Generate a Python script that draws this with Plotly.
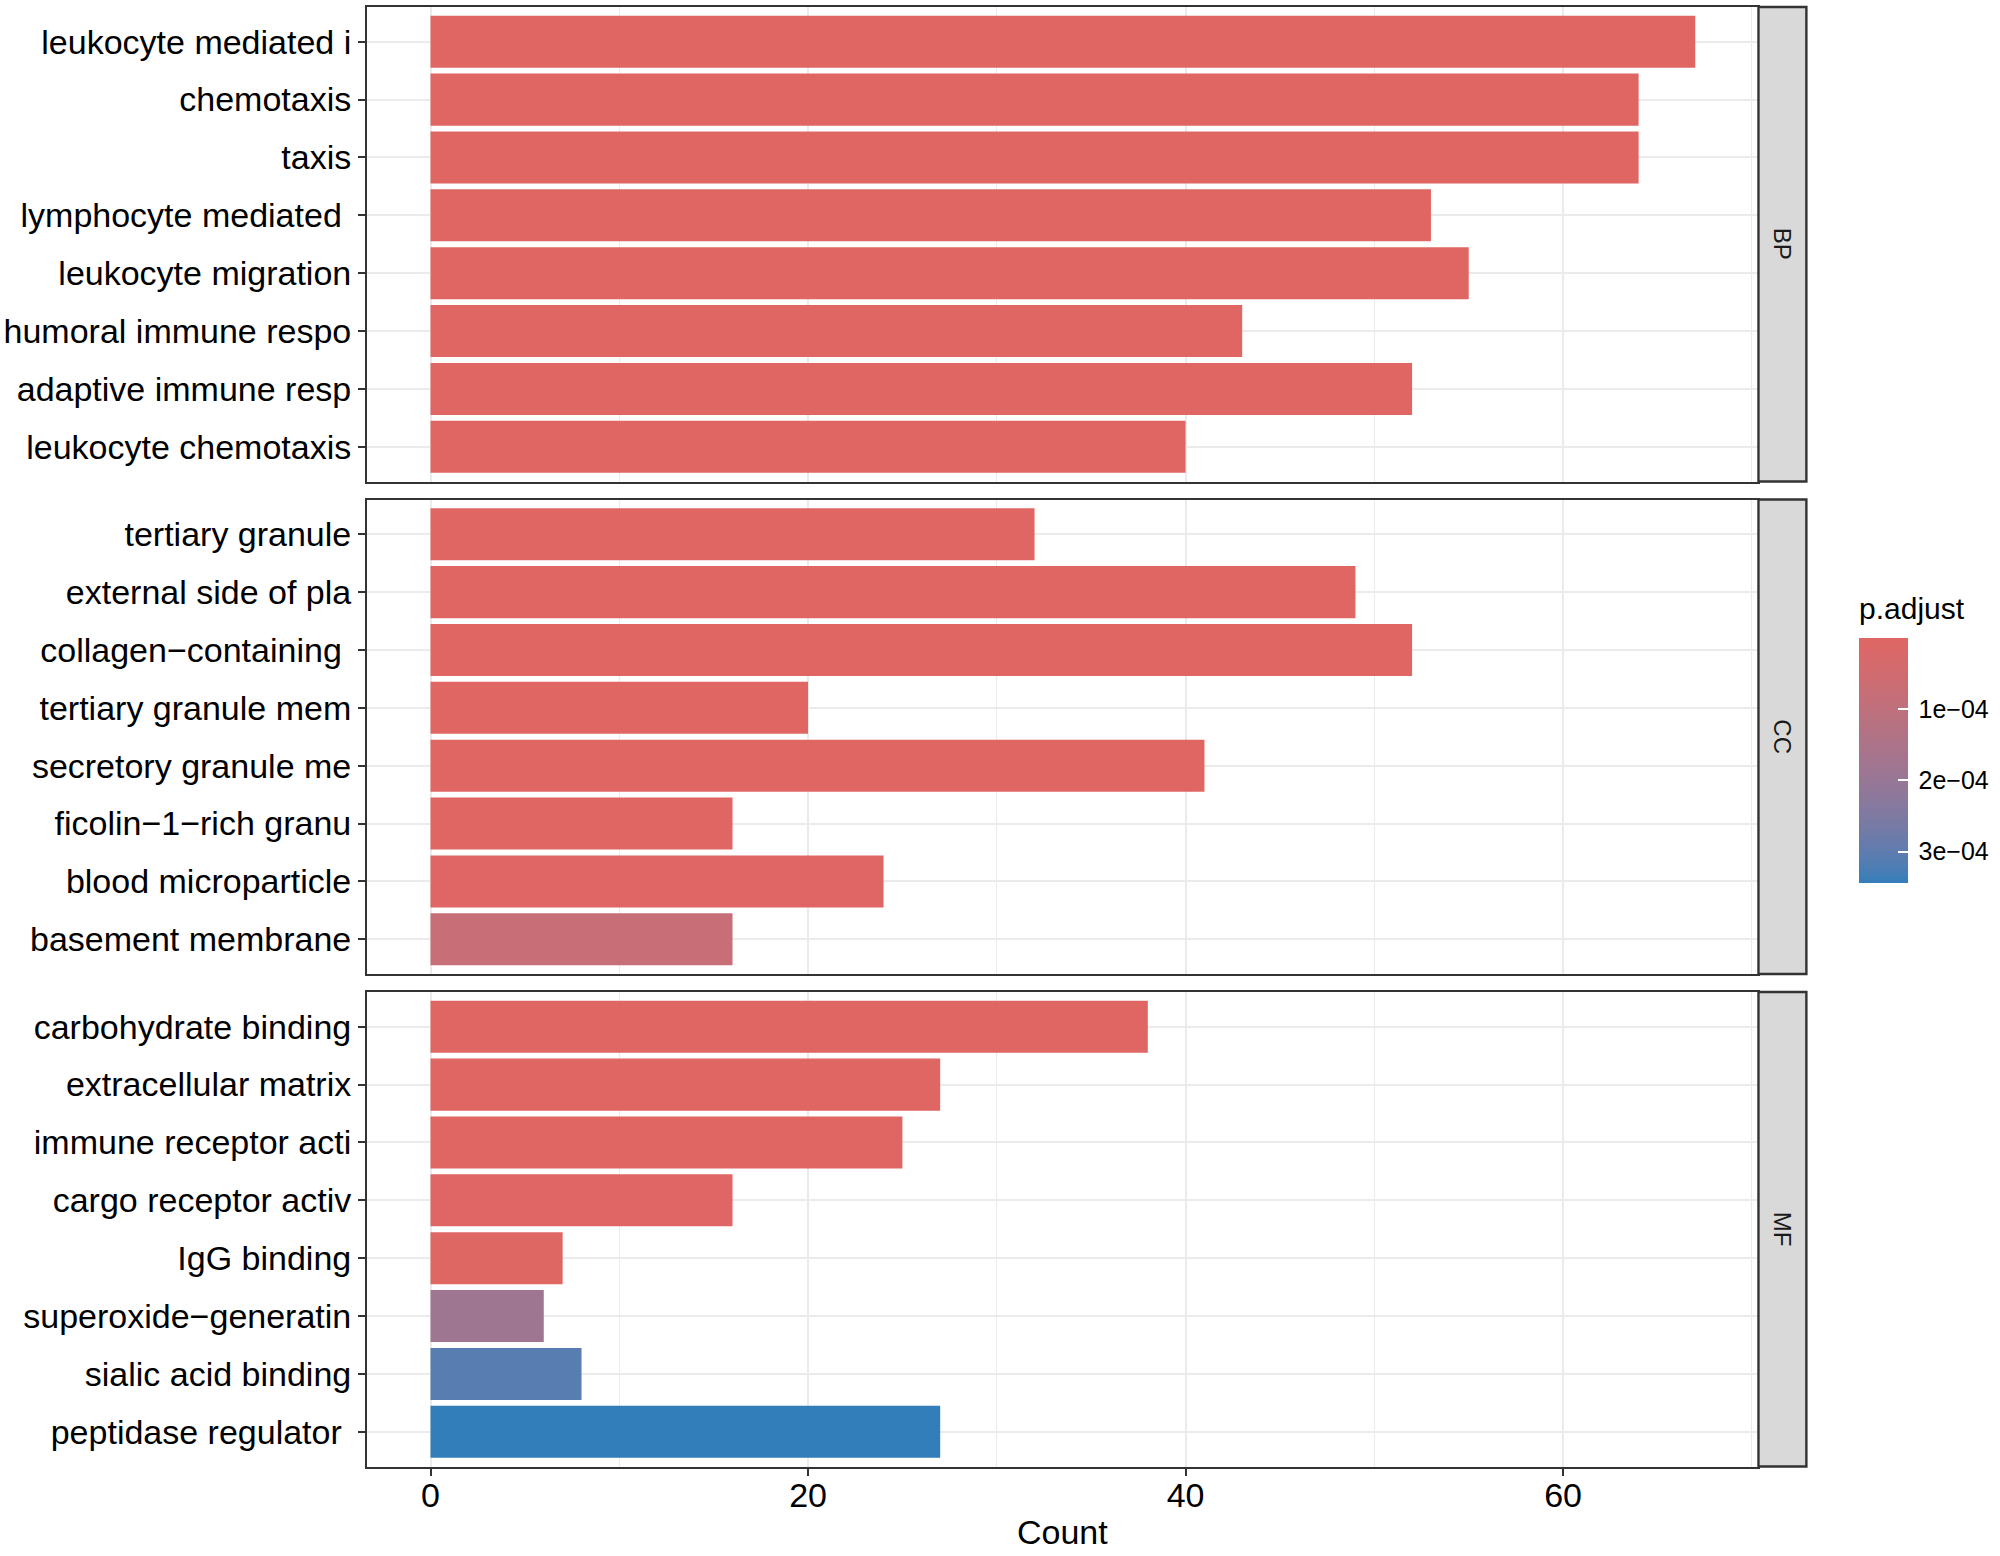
import plotly.graph_objects as go

# ---------------- data ----------------
bp_terms = ["leukocyte mediated i", "chemotaxis", "taxis", "lymphocyte mediated\u00a0",
            "leukocyte migration", "humoral immune respo", "adaptive immune resp",
            "leukocyte chemotaxis"]
bp_counts = [67, 64, 64, 53, 55, 43, 52, 40]
bp_padj = [1.1e-12, 2.0e-12, 2.0e-12, 3.5e-12, 4.1e-12, 6.0e-12, 7.2e-12, 8.5e-12]

cc_terms = ["tertiary granule", "external side of pla", "collagen\u2212containing\u00a0",
            "tertiary granule mem", "secretory granule me", "ficolin\u22121\u2212rich granu",
            "blood microparticle", "basement membrane"]
cc_counts = [32, 49, 52, 20, 41, 16, 24, 16]
cc_padj = [2.0e-11, 3.0e-10, 5.0e-9, 4.0e-8, 9.0e-8, 6.0e-7, 2.5e-6, 0.76e-4]

mf_terms = ["carbohydrate binding", "extracellular matrix", "immune receptor acti",
            "cargo receptor activ", "IgG binding", "superoxide\u2212generatin",
            "sialic acid binding", "peptidase regulator\u00a0"]
mf_counts = [38, 27, 25, 16, 7, 6, 8, 27]
mf_padj = [1.0e-7, 4.0e-7, 1.0e-6, 3.0e-6, 6.0e-6, 1.84e-4, 3.09e-4, 3.44e-4]

facets = ["BP", "CC", "MF"]
cbar_tickvals = [1e-4, 2e-4, 3e-4]
cbar_ticktext = ["1e\u221204", "2e\u221204", "3e\u221204"]
x_ticks = [0, 20, 40, 60]

LOW = "#e06663"
HIGH = "#327eba"


# ------------- Lab colour interpolation (like ggplot) -------------
def _lin(c):
    c = c / 255.0
    return c / 12.92 if c <= 0.04045 else ((c + 0.055) / 1.055) ** 2.4


def _unlin(c):
    c = 12.92 * c if c <= 0.0031308 else 1.055 * c ** (1 / 2.4) - 0.055
    return max(0, min(255, round(c * 255)))


def hex2lab(h):
    r, g, b = (_lin(int(h[i:i + 2], 16)) for i in (1, 3, 5))
    X = 0.4124 * r + 0.3576 * g + 0.1805 * b
    Y = 0.2126 * r + 0.7152 * g + 0.0722 * b
    Z = 0.0193 * r + 0.1192 * g + 0.9505 * b
    Xn, Yn, Zn = 0.95047, 1.0, 1.08883

    def f(t):
        return t ** (1 / 3) if t > 0.008856 else 7.787 * t + 16 / 116
    fx, fy, fz = f(X / Xn), f(Y / Yn), f(Z / Zn)
    return 116 * fy - 16, 500 * (fx - fy), 200 * (fy - fz)


def lab2hex(L, a, b):
    fy = (L + 16) / 116
    fx = fy + a / 500
    fz = fy - b / 200

    def finv(t):
        return t ** 3 if t ** 3 > 0.008856 else (t - 16 / 116) / 7.787
    X, Y, Z = 0.95047 * finv(fx), finv(fy), 1.08883 * finv(fz)
    r = 3.2406 * X - 1.5372 * Y - 0.4986 * Z
    g = -0.9689 * X + 1.8758 * Y + 0.0415 * Z
    bb = 0.0557 * X - 0.2040 * Y + 1.0570 * Z
    return "#%02x%02x%02x" % (_unlin(r), _unlin(g), _unlin(bb))


lab_lo, lab_hi = hex2lab(LOW), hex2lab(HIGH)


def interp(frac):
    return lab2hex(*[lab_lo[i] + (lab_hi[i] - lab_lo[i]) * frac for i in range(3)])


all_p = bp_padj + cc_padj + mf_padj
pmin, pmax = min(all_p), max(all_p)
NSTOP = 40
# colour values are -p so that the colourbar shows low p (red) on top
colorscale = [[s / NSTOP, interp(1 - s / NSTOP)] for s in range(NSTOP + 1)]

# ---------------- layout geometry ----------------
W, H = 2000, 1556
x0p, x1p = 368, 1762
strip_r = 1810
panels_px = [(7, 481.5), (499.5, 974), (992, 1466.5)]
cb_x, cb_top, cb_len, cb_thick = 1863, 638, 245, 49


def ydom(t, b):
    return [1 - b / H, 1 - t / H]


FONT = "Liberation Sans, Arial, Helvetica, sans-serif"
GRID = "#EBEBEB"
BORDER = "#333333"
FS = 34

fig = go.Figure()
data = [(bp_terms, bp_counts, bp_padj), (cc_terms, cc_counts, cc_padj),
        (mf_terms, mf_counts, mf_padj)]

for i, (terms, counts, padj) in enumerate(data):
    k = "" if i == 0 else str(i + 1)
    fig.add_trace(go.Bar(
        x=counts, y=terms, orientation="h", width=0.9,
        marker=dict(color=[-p for p in padj], coloraxis="coloraxis", line=dict(width=0)),
        xaxis="x" + k, yaxis="y" + k, showlegend=False,
        hovertemplate="%{y}: %{x}<extra></extra>",
    ))

layout = dict(
    width=W, height=H,
    margin=dict(l=0, r=0, t=0, b=0),
    paper_bgcolor="white", plot_bgcolor="white",
    font=dict(family=FONT, color="black", size=FS),
    bargap=0.1,
    coloraxis=dict(
        cmin=-pmax, cmax=-pmin, colorscale=colorscale,
        colorbar=dict(
            x=cb_x / W, xanchor="left", xpad=0,
            y=1 - cb_top / H, yanchor="top", ypad=0,
            lenmode="pixels", len=cb_len, thickness=cb_thick,
            outlinewidth=0,
            tickvals=[-v for v in cbar_tickvals],
            ticktext=["\u2009" + s for s in cbar_ticktext],
            ticks="inside", ticklen=10, tickwidth=2, tickcolor="white",
            tickfont=dict(size=25, color="black", family=FONT),
        ),
    ),
)

shapes = []
annotations = []
for i, (terms, counts, padj) in enumerate(data):
    k = "" if i == 0 else str(i + 1)
    t, b = panels_px[i]
    bottom = (i == 2)
    layout["xaxis" + k] = dict(
        domain=[x0p / W, x1p / W], anchor="y" + k,
        range=[-3.35, 70.35], tickvals=x_ticks,
        showticklabels=bottom, ticks="outside" if bottom else "",
        ticklen=7, tickwidth=2.4, tickcolor=BORDER,
        tickfont=dict(size=FS, color="black"),
        ticklabelstandoff=-10,
        showgrid=True, gridcolor=GRID, gridwidth=2.4,
        minor=dict(tickvals=[10, 30, 50, 70], showgrid=True, gridcolor=GRID, gridwidth=1.2, ticks=""),
        showline=True, mirror=True, linecolor=BORDER, linewidth=2.4,
        zeroline=False,
        matches=None if i == 0 else "x",
    )
    layout["yaxis" + k] = dict(
        domain=ydom(t, b), anchor="x" + k,
        type="category", categoryorder="array", categoryarray=terms,
        range=[len(terms) - 0.4, -0.6],
        ticks="outside", ticklen=7, tickwidth=2.4, tickcolor=BORDER,
        tickfont=dict(size=FS, color="black"),
        showgrid=True, gridcolor=GRID, gridwidth=2.4,
        showline=True, mirror=True, linecolor=BORDER, linewidth=2.4,
        zeroline=False,
    )
    shapes.append(dict(
        type="rect", xref="paper", yref="paper",
        x0=x1p / W, x1=strip_r / W, y0=1 - b / H, y1=1 - t / H,
        fillcolor="#D9D9D9", line=dict(color=BORDER, width=2.4), layer="above",
    ))
    annotations.append(dict(
        xref="paper", yref="paper", x=(x1p + strip_r) / 2 / W, y=1 - (t + b) / 2 / H,
        text=facets[i], showarrow=False, textangle=90,
        font=dict(size=24, color="#1A1A1A"), xanchor="center", yanchor="middle",
    ))

# white tick marks on the left edge of the colourbar (ggplot style)
for v in cbar_tickvals:
    ypx = cb_top + (v - pmin) / (pmax - pmin) * cb_len
    shapes.append(dict(
        type="line", xref="paper", yref="paper",
        x0=cb_x / W, x1=(cb_x + 10) / W, y0=1 - ypx / H, y1=1 - ypx / H,
        line=dict(color="white", width=2), layer="above",
    ))

annotations.append(dict(
    xref="paper", yref="paper", x=(x0p + x1p) / 2 / W, y=1 - 1532 / H,
    text="Count", showarrow=False, xanchor="center", yanchor="middle",
    font=dict(size=FS, color="black"),
))
annotations.append(dict(
    xref="paper", yref="paper", x=1861 / W, y=1 - 609 / H,
    text="p.adjust", showarrow=False, xanchor="left", yanchor="middle",
    font=dict(size=30, color="black"),
))

layout["shapes"] = shapes
layout["annotations"] = annotations
fig.update_layout(**layout)

fig.write_html("out.html", config={"displayModeBar": False},
               post_script="document.body.style.margin='0';document.body.style.padding='0';")
